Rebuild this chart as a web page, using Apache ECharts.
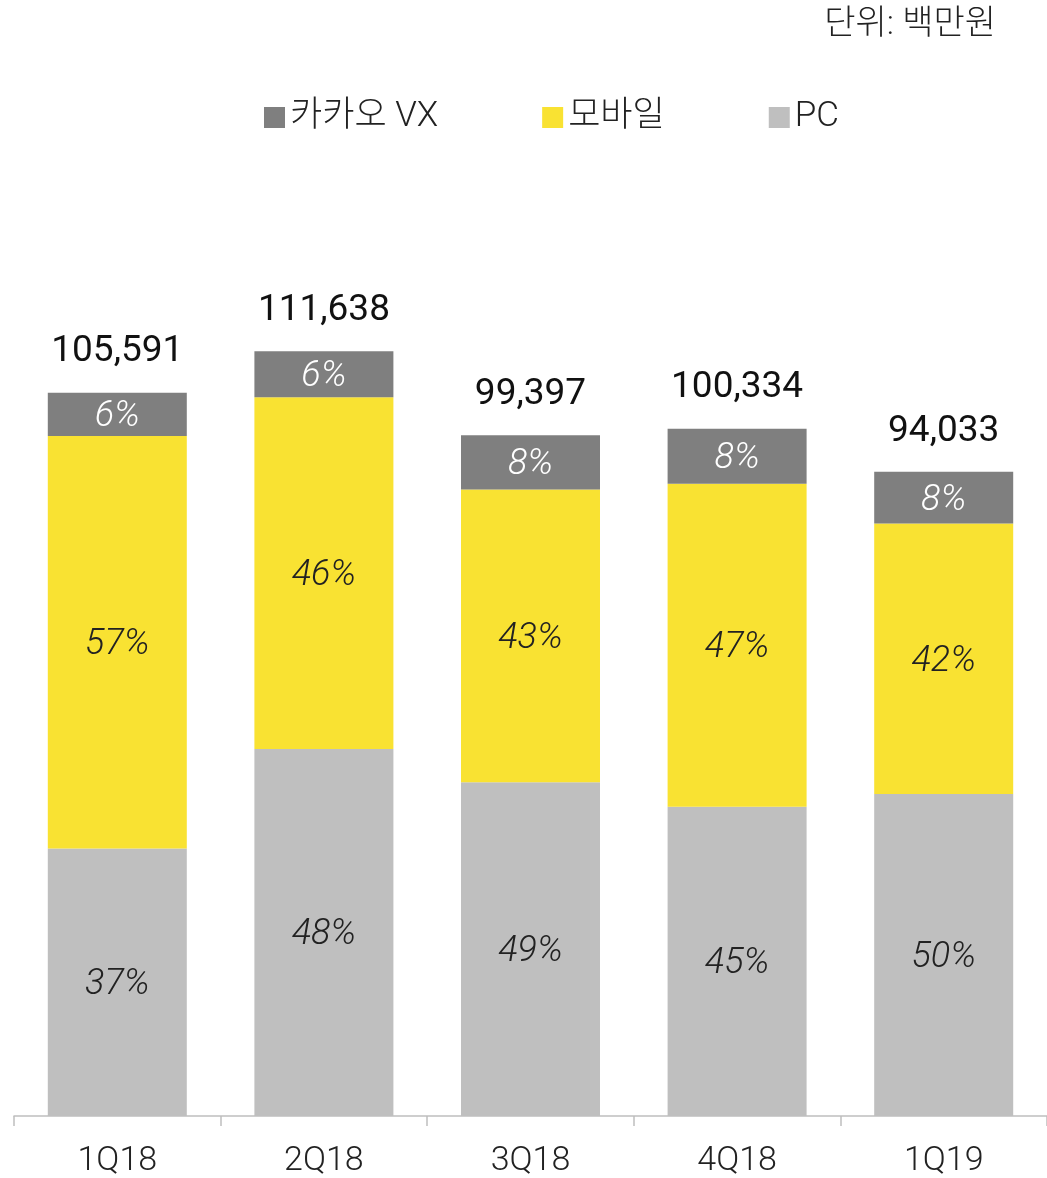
<!DOCTYPE html>
<html>
<head>
<meta charset="utf-8">
<script src="https://cdn.jsdelivr.net/npm/echarts@6/dist/echarts.min.js"></script>
<style>
html,body{margin:0;padding:0;background:#fff;}
#chart{width:1047px;height:1178px;}
</style>
</head>
<body>
<div id="chart"></div>
<script>
var categories = ['1Q18', '2Q18', '3Q18', '4Q18', '1Q19'];
var totals = [105591, 111638, 99397, 100334, 94033];
var pcShare = [37, 48, 49, 45, 50];
var mobileShare = [57, 46, 43, 47, 42];
var vxShare = [6, 6, 8, 8, 8];
var seriesNames = ['카카오 VX', '모바일', 'PC'];
var unitText = '단위: 백만원';

var FONT = 'Roboto, "Noto Sans CJK KR", sans-serif';
var colors = { vx: '#7F7F7F', mobile: '#F9E232', pc: '#BFBFBF' };

function seg(share) {
  return share.map(function (s, i) { return { value: totals[i] * s / 100, share: s }; });
}
function pctLabel(color) {
  return {
    show: true, position: 'inside', color: color, offset: [0, 3],
    fontFamily: FONT, fontStyle: 'italic', fontWeight: 300, fontSize: 36,
    formatter: function (p) { return p.data.share + '%'; }
  };
}

var chart = echarts.init(document.getElementById('chart'), null, { renderer: 'canvas' });
chart.setOption({
  animation: false,
  title: {
    text: unitText, right: 46, top: 4,
    textStyle: { fontFamily: FONT, fontWeight: 300, fontSize: 34, color: '#222' }
  },
  legend: {
    data: seriesNames, left: 259, top: 95,
    itemWidth: 21, itemHeight: 21, itemGap: 104, icon: 'rect',
    textStyle: { fontFamily: FONT, fontWeight: 300, fontSize: 35, color: '#222' }
  },
  grid: { left: 14, right: 0, top: 157, bottom: 62, containLabel: false },
  xAxis: {
    type: 'category', data: categories,
    axisLine: { lineStyle: { color: '#BFBFBF', width: 1.5 } },
    axisTick: { show: true, length: 10, lineStyle: { color: '#BFBFBF', width: 1.5 } },
    axisLabel: { fontFamily: FONT, fontWeight: 300, fontSize: 34, color: '#222', margin: 28 }
  },
  yAxis: { type: 'value', min: 0, max: 140000, show: false, splitLine: { show: false } },
  series: [
    { name: 'PC', type: 'bar', stack: 'a', barWidth: 139, barGap: '-100%',
      itemStyle: { color: colors.pc }, label: pctLabel('#222'), data: seg(pcShare) },
    { name: '모바일', type: 'bar', stack: 'a', barWidth: 139,
      itemStyle: { color: colors.mobile }, label: pctLabel('#222'), data: seg(mobileShare) },
    { name: '카카오 VX', type: 'bar', stack: 'a', barWidth: 139,
      itemStyle: { color: colors.vx }, label: pctLabel('#ffffff'), data: seg(vxShare) },
    { name: 'total', type: 'bar', barWidth: 139, barGap: '-100%', silent: true, z: 0,
      itemStyle: { color: 'rgba(0,0,0,0)' },
      label: {
        show: true, position: 'top', distance: 22, color: '#111',
        fontFamily: FONT, fontWeight: 400, fontSize: 37,
        formatter: function (p) { return p.value.toLocaleString('en-US'); }
      },
      data: totals }
  ]
});
</script>
</body>
</html>
